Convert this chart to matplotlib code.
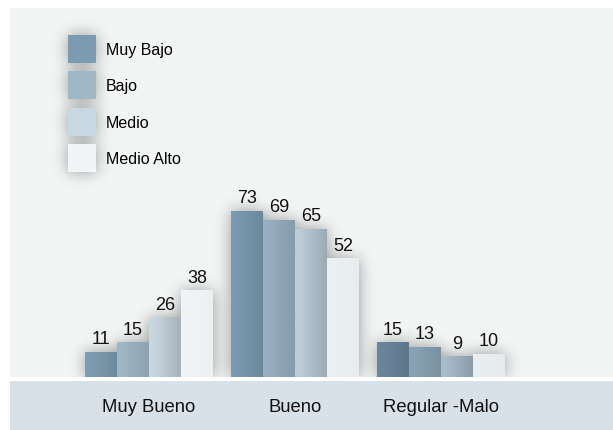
import numpy as np
import matplotlib
matplotlib.use('Agg')
import matplotlib.pyplot as plt
from matplotlib.patches import Rectangle, Patch
import matplotlib.colors as mcolors
import matplotlib.transforms as mtransforms

plt.rcParams['font.family'] = ['Liberation Sans', 'DejaVu Sans']

# ---------------- data ----------------
categories = ['Muy Bueno', 'Bueno', 'Regular -Malo']
series = ['Muy Bajo', 'Bajo', 'Medio', 'Medio Alto']
muy_bajo = [11, 73, 15]
bajo = [15, 69, 13]
medio = [26, 65, 9]
medio_alto = [38, 52, 10]
values = [muy_bajo, bajo, medio, medio_alto]

# ---------------- styles ----------------
bar_colors = [
    ['#7f9db2', '#7a9ab0', '#6b869c'],
    ['#a0b6c5', '#97afc1', '#89a2b4'],
    ['#c9d7e0', '#bccdd8', '#a9bcca'],
    ['#f1f4f7', '#ebf0f3', '#e9eef1'],
]
legend_colors = ['#7d9bb0', '#a0b7c6', '#c8d7e1', '#f1f5f8']
darken = [0.88, 0.89, 0.83, 0.985]

W, H, DPI = 613, 431, 100
fig = plt.figure(figsize=(W / DPI, H / DPI), dpi=DPI, facecolor='white')
ax = fig.add_axes([10 / W, 53 / H, (W - 10) / W, (378 - 9) / H])
ax.set_facecolor('#f3f5f5')
for s in ax.spines.values():
    s.set_visible(False)
ax.set_xticks([])
ax.set_yticks([])

px_per_unit = 2.27
group_px = 146
x0_px = 149
xlim = ((10 - x0_px) / group_px, (W - x0_px) / group_px)
ylim = (0, (378 - 9) / px_per_unit)
ax.set_xlim(*xlim)
ax.set_ylim(*ylim)

# bottom band
fig.patches.append(Rectangle((10 / W, 0), (W - 10) / W, 49 / H,
                             transform=fig.transFigure, facecolor='#d9e1e8',
                             edgecolor='none', zorder=-1))

width = 32 / group_px
x = np.arange(len(categories))
bars_all = []
for j, vals in enumerate(values):
    offs = (j - 1.5) * width
    bars = ax.bar(x + offs, vals, width=width, color=[bar_colors[j][i] for i in range(len(categories))],
                  edgecolor='none', zorder=3, label=series[j])
    for i, b in enumerate(bars):
        c = np.array(mcolors.to_rgb(bar_colors[j][i]))
        t = np.linspace(0, 1, 64)
        f = 1 - (1 - darken[j]) * np.clip((t - 0.15) / 0.85, 0, 1)
        grad = (c[None, :] * f[:, None])[None, :, :]
        ax.imshow(grad, extent=(b.get_x(), b.get_x() + b.get_width(), 0, b.get_height()),
                  aspect='auto', zorder=4, interpolation='bilinear')
        ax.annotate(str(vals[i]), (b.get_x() + b.get_width() / 2, b.get_height()),
                    xytext=(0, 6.5), textcoords='offset points', ha='center',
                    va='baseline', fontsize=13, color='#111111', zorder=5)
        bars_all.append(b)

# category labels
for i, cat in enumerate(categories):
    xd = ax.transData.transform((x[i], 0))[0]
    fig.text(xd / W, (H - 411.7) / H, cat, ha='center', va='baseline',
             fontsize=13.3, color='#111111', zorder=5)

# legend
handles = [Patch(facecolor=legend_colors[j], edgecolor='none') for j in range(len(series))]
leg = ax.legend(handles, series, loc='upper left',
                bbox_to_anchor=(68 / W, 1 - 36 / H), bbox_transform=fig.transFigure,
                frameon=False, fontsize=11.5, handlelength=1.75, handleheight=2.32,
                labelspacing=0.53, handletextpad=0.62, borderpad=0, borderaxespad=0)

ax.set_xlim(*xlim)
ax.set_ylim(*ylim)
fig.canvas.draw()

# soft shadow behind bars and legend squares
mask = np.zeros((H, W))
boxes = [b.get_window_extent() for b in bars_all] + [p.get_window_extent() for p in leg.get_patches()]
for bb in boxes:
    x0, x1 = int(round(bb.x0)), int(round(bb.x1))
    y0, y1 = int(round(H - bb.y1)), int(round(H - bb.y0))
    mask[max(y0, 0):y1, max(x0, 0):x1] = 1.0
sigma = 8
k = np.exp(-0.5 * (np.arange(-3 * sigma, 3 * sigma + 1) / sigma) ** 2)
k /= k.sum()
blur = np.apply_along_axis(lambda r: np.convolve(r, k, mode='same'), 1, mask)
blur = np.apply_along_axis(lambda r: np.convolve(r, k, mode='same'), 0, blur)
sub = blur[9:378, 10:W]
rgba = np.zeros(sub.shape + (4,))
rgba[..., 3] = np.clip(sub, 0, 1) * 0.38
ax.imshow(rgba, extent=(xlim[0], xlim[1], ylim[0], ylim[1]), aspect='auto',
          origin='upper', zorder=1, interpolation='bilinear')
ax.set_xlim(*xlim)
ax.set_ylim(*ylim)

fig.savefig('out.png', dpi=DPI, facecolor='white')
